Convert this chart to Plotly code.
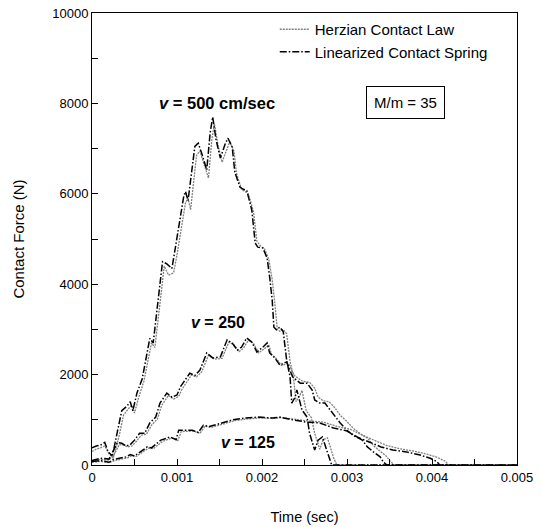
import plotly.graph_objects as go

# ---- data (time in s, force in N) ----
t500_lin = [0, 0.00005, 0.0001, 0.00015, 0.00019, 0.00024, 0.0003, 0.00035, 0.00041, 0.00045, 0.00048, 0.00053,
            0.00059, 0.00063, 0.00068, 0.00072, 0.00077, 0.00083, 0.00088, 0.00094, 0.00098, 0.00104, 0.00108,
            0.0011, 0.00113, 0.00121, 0.00125, 0.00129, 0.00135, 0.00139, 0.00142, 0.00146, 0.00151, 0.00157,
            0.0016, 0.00165, 0.00168, 0.00174, 0.00178, 0.00182, 0.00188, 0.00192, 0.00195, 0.00201, 0.00206,
            0.00209, 0.00212, 0.00214, 0.00217, 0.00221, 0.00225, 0.00229, 0.00233, 0.00235, 0.00239, 0.00241,
            0.00247, 0.00253, 0.00256, 0.00262, 0.00266, 0.00271, 0.00274, 0.00278, 0.00282, 0.005]
f500_lin = [380, 420, 440, 500, 290, 200, 750, 1200, 1300, 1400, 1200, 1600,
            1900, 2300, 2800, 2700, 3500, 4500, 4450, 4350, 4800, 5500, 5950,
            6050, 5850, 7050, 7120, 6900, 6530, 7350, 7700, 7190, 6790, 7120,
            7230, 7030, 6480, 6150, 6100, 6080, 5640, 4910, 4820, 4800, 4580,
            4160, 3650, 3050, 2990, 3050, 2950, 2320, 1950, 1370, 1500, 1660,
            1220, 1060, 700, 330, 550, 620, 450, 180, 0, 0]

t500_hz = [0, 0.00005, 0.0001, 0.00015, 0.0002, 0.00025, 0.00032, 0.00037, 0.00043, 0.00047, 0.0005, 0.00055,
           0.00061, 0.00065, 0.0007, 0.00074, 0.00079, 0.00085, 0.0009, 0.00096, 0.001, 0.00106, 0.0011,
           0.00113, 0.00116, 0.00123, 0.00127, 0.00131, 0.00137, 0.00141, 0.00144, 0.00148, 0.00153, 0.00159,
           0.00162, 0.00167, 0.0017, 0.00176, 0.0018, 0.00184, 0.0019, 0.00194, 0.00198, 0.00203, 0.00208,
           0.00212, 0.00215, 0.00218, 0.00221, 0.00225, 0.00229, 0.00233, 0.00237, 0.0024, 0.00244, 0.00247,
           0.00252, 0.00258, 0.00262, 0.00268, 0.00272, 0.00277, 0.0028, 0.00284, 0.00288, 0.005]
f500_hz = [300, 350, 380, 420, 250, 150, 650, 1100, 1250, 1320, 1150, 1500,
           1850, 2250, 2700, 2600, 3400, 4400, 4200, 4250, 4650, 5400, 5800,
           5900, 5650, 6850, 6950, 6700, 6350, 7200, 7550, 7100, 6700, 7000,
           7150, 6950, 6450, 6100, 6050, 6000, 5600, 4950, 4850, 4780, 4550,
           4100, 3600, 3000, 2960, 3000, 2900, 2300, 1950, 1400, 1520, 1650,
           1200, 1050, 700, 350, 560, 600, 420, 170, 0, 0]

t250_lin = [0, 0.0001, 0.0002, 0.00025, 0.0003, 0.00035, 0.0004, 0.00045, 0.0005, 0.00056, 0.00062, 0.00068,
            0.00072, 0.00075, 0.0008, 0.00088, 0.00094, 0.001, 0.00104, 0.0011, 0.00115, 0.00121, 0.00127,
            0.00135, 0.00142, 0.00151, 0.00159, 0.00165, 0.00171, 0.00176, 0.00182, 0.00188, 0.00194, 0.002,
            0.00206, 0.00209, 0.00215, 0.00221, 0.00229, 0.00236, 0.00245, 0.00253, 0.00259, 0.00262, 0.00268,
            0.00274, 0.0028, 0.00286, 0.00292, 0.003, 0.00307, 0.00318, 0.00324, 0.00331, 0.00339, 0.00343,
            0.00347, 0.005]
f250_lin = [100, 150, 130, 300, 500, 480, 420, 450, 550, 700, 700, 930,
            1000, 1060, 1370, 1590, 1500, 1550, 1730, 1880, 2030, 1980, 2100,
            2480, 2370, 2390, 2770, 2700, 2540, 2610, 2810, 2720, 2500, 2590,
            2700, 2480, 2370, 2210, 2280, 1950, 1810, 1810, 1660, 1440, 1370,
            1370, 1220, 1060, 930, 770, 660, 550, 400, 290, 180, 60,
            0, 0]

t250_hz = [0, 0.0001, 0.0002, 0.00027, 0.00032, 0.00037, 0.00042, 0.00047, 0.00052, 0.00058, 0.00064, 0.0007,
           0.00074, 0.00077, 0.00082, 0.0009, 0.00096, 0.00102, 0.00106, 0.00112, 0.00117, 0.00123, 0.00129,
           0.00137, 0.00144, 0.00153, 0.00161, 0.00167, 0.00173, 0.00178, 0.00184, 0.0019, 0.00196, 0.00202,
           0.00208, 0.00211, 0.00217, 0.00223, 0.00231, 0.00238, 0.00248, 0.00256, 0.00262, 0.00266, 0.00272,
           0.00279, 0.00286, 0.00292, 0.00299, 0.00307, 0.00315, 0.00325, 0.00331, 0.00338, 0.00346, 0.00351,
           0.00356, 0.005]
f250_hz = [80, 120, 110, 260, 450, 440, 400, 420, 520, 660, 680, 880,
           960, 1020, 1320, 1540, 1460, 1520, 1680, 1840, 1990, 1950, 2060,
           2430, 2340, 2360, 2720, 2660, 2510, 2580, 2760, 2690, 2480, 2560,
           2660, 2450, 2350, 2200, 2250, 1980, 1850, 1830, 1700, 1500, 1420,
           1400, 1260, 1100, 980, 820, 700, 580, 430, 320, 200, 80,
           0, 0]

t125_lin = [0, 0.0001, 0.0002, 0.00025, 0.0004, 0.00045, 0.0005, 0.00057, 0.00065, 0.0007, 0.00081, 0.00092,
            0.00099, 0.00102, 0.00118, 0.00125, 0.00131, 0.00138, 0.00166, 0.00181, 0.00196, 0.00212, 0.00221,
            0.00236, 0.00252, 0.00268, 0.00284, 0.00299, 0.00312, 0.00326, 0.0034, 0.00354, 0.0037, 0.00386,
            0.00398, 0.00406, 0.00409, 0.005]
f125_lin = [80, 100, 60, 120, 180, 230, 200, 300, 400, 380, 550, 620,
            560, 770, 770, 720, 880, 850, 1000, 1040, 1060, 1040, 1060,
            1000, 950, 930, 820, 760, 620, 510, 400, 330, 290, 220,
            150, 70, 0, 0]

t125_hz = [0, 0.0001, 0.0002, 0.00027, 0.00042, 0.00047, 0.00052, 0.00059, 0.00067, 0.00072, 0.00083, 0.00094,
           0.00101, 0.00105, 0.0012, 0.00127, 0.00133, 0.0014, 0.00168, 0.00183, 0.00198, 0.00214, 0.00224,
           0.00239, 0.00256, 0.00272, 0.00289, 0.00304, 0.00318, 0.00333, 0.00347, 0.00362, 0.00378, 0.00394,
           0.00406, 0.00415, 0.0042, 0.005]
f125_hz = [60, 80, 50, 100, 160, 210, 190, 280, 380, 360, 520, 600,
           540, 740, 750, 700, 860, 830, 980, 1020, 1040, 1030, 1050,
           1010, 970, 950, 850, 790, 660, 540, 430, 360, 310, 240,
           170, 90, 0, 0]

x_ticks = [0, 0.001, 0.002, 0.003, 0.004, 0.005]
x_ticklabels = ["0", "0.001", "0.002", "0.003", "0.004", "0.005"]
y_ticks = [0, 2000, 4000, 6000, 8000, 10000]
y_ticklabels = ["0", "2000", "4000", "6000", "8000", "10000"]

FONT = "Liberation Sans, Arial, sans-serif"
HZ = dict(color="#808080", width=1.3, dash="2px,1px")
LIN = dict(color="black", width=1.5, dash="7px,2px,1.5px,2px")

fig = go.Figure()
series = [(t500_hz, f500_hz, t500_lin, f500_lin),
          (t250_hz, f250_hz, t250_lin, f250_lin),
          (t125_hz, f125_hz, t125_lin, f125_lin)]
for i, (th, fh, tl, fl) in enumerate(series):
    fig.add_trace(go.Scatter(x=th, y=fh, mode="lines", line=HZ, name="Herzian Contact Law",
                             legendgroup="hz", showlegend=(i == 0)))
    fig.add_trace(go.Scatter(x=tl, y=fl, mode="lines", line=LIN, name="Linearized Contact Spring",
                             legendgroup="lin", showlegend=(i == 0)))

fig.update_layout(
    width=541, height=527,
    margin=dict(l=92, r=24, t=13, b=62),
    paper_bgcolor="white", plot_bgcolor="white",
    font=dict(family=FONT, size=12, color="black"),
    legend=dict(x=0.43, y=1.0, xanchor="left", yanchor="top", bgcolor="rgba(0,0,0,0)",
                font=dict(size=15), tracegroupgap=0, itemwidth=30),
    xaxis=dict(range=[0, 0.005], tickvals=x_ticks, ticktext=x_ticklabels, automargin=False,
               showline=True, linecolor="black", linewidth=1, mirror=True,
               ticks="inside", ticklen=6, tickcolor="black", showgrid=False, zeroline=False,
               minor=dict(dtick=0.0005, ticks="inside", ticklen=6, tickcolor="black", showgrid=False),
               title=dict(text="Time (sec)", font=dict(size=14.5), standoff=28),
               tickfont=dict(size=13)),
    yaxis=dict(range=[0, 10000], tickvals=y_ticks, ticktext=y_ticklabels, automargin=False,
               showline=True, linecolor="black", linewidth=1, mirror=True,
               ticks="inside", ticklen=6, tickcolor="black", showgrid=False, zeroline=False,
               minor=dict(dtick=1000, ticks="inside", ticklen=6, tickcolor="black", showgrid=False),
               title=dict(text="Contact Force (N)", font=dict(size=15), standoff=23),
               tickfont=dict(size=13)),
)

fig.add_annotation(x=0.00147, y=8010, text="<b><i>v</i> = 500 cm/sec</b>", showarrow=False,
                   font=dict(size=16.5))
fig.add_annotation(x=0.00148, y=3150, text="<b><i>v</i> = 250</b>", showarrow=False, font=dict(size=16))
fig.add_annotation(x=0.00184, y=490, text="<b><i>v</i> = 125</b>", showarrow=False, font=dict(size=16))
fig.add_annotation(x=0.003694, y=8010, text="M/m = 35", showarrow=False, font=dict(size=15),
                   bordercolor="black", borderwidth=1, borderpad=7, bgcolor="white")

fig.write_html("out.html")
